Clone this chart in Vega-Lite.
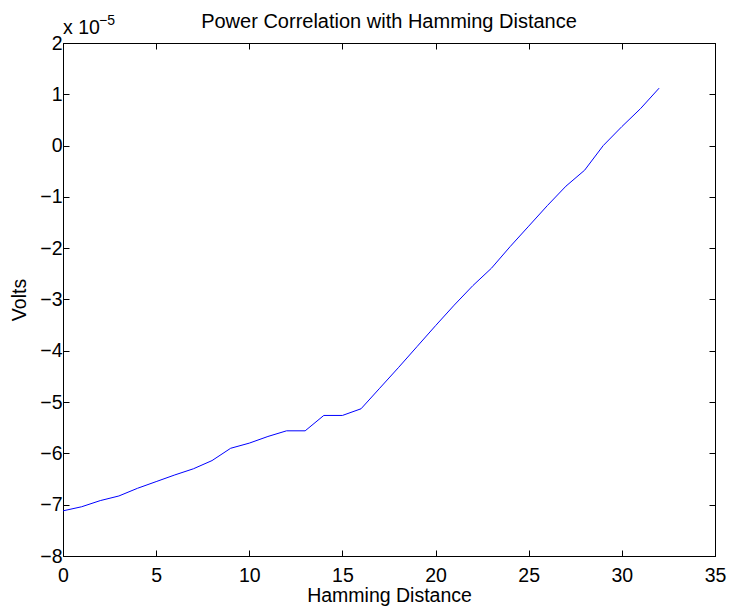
{
  "$schema": "https://vega.github.io/schema/vega-lite/v6.json",
  "width": 652,
  "height": 513,
  "autosize": {"type": "none"},
  "padding": {"left": 63, "top": 43, "right": 15, "bottom": 55},
  "background": "white",
  "config": {
    "view": {"stroke": "black", "strokeWidth": 1},
    "font": "Liberation Sans",
    "axis": {
      "grid": false,
      "labelFlush": false,
      "labelOverlap": false,
      "domainColor": "black",
      "domainWidth": 1,
      "tickColor": "black",
      "tickWidth": 1,
      "tickSize": -6,
      "labelColor": "black",
      "labelFontSize": 19.5,
      "labelFont": "Liberation Sans",
      "titleColor": "black",
      "titleFontSize": 19.5,
      "titleFont": "Liberation Sans",
      "titleFontWeight": "normal"
    }
  },
  "title": {
    "text": "Power Correlation with Hamming Distance",
    "fontSize": 20,
    "fontWeight": "normal",
    "font": "Liberation Sans",
    "color": "black",
    "baseline": "alphabetic",
    "offset": -34
  },
  "data": {
    "values": [
      {"distance": 0, "volts": -7.12e-5},
      {"distance": 1, "volts": -7.04e-5},
      {"distance": 2, "volts": -6.92e-5},
      {"distance": 3, "volts": -6.83e-5},
      {"distance": 4, "volts": -6.68e-5},
      {"distance": 5, "volts": -6.55e-5},
      {"distance": 6, "volts": -6.42e-5},
      {"distance": 7, "volts": -6.30e-5},
      {"distance": 8, "volts": -6.14e-5},
      {"distance": 9, "volts": -5.90e-5},
      {"distance": 10, "volts": -5.80e-5},
      {"distance": 11, "volts": -5.67e-5},
      {"distance": 12, "volts": -5.56e-5},
      {"distance": 13, "volts": -5.56e-5},
      {"distance": 14, "volts": -5.26e-5},
      {"distance": 15, "volts": -5.26e-5},
      {"distance": 16, "volts": -5.13e-5},
      {"distance": 17, "volts": -4.73e-5},
      {"distance": 18, "volts": -4.33e-5},
      {"distance": 19, "volts": -3.92e-5},
      {"distance": 20, "volts": -3.51e-5},
      {"distance": 21, "volts": -3.11e-5},
      {"distance": 22, "volts": -2.73e-5},
      {"distance": 23, "volts": -2.39e-5},
      {"distance": 24, "volts": -1.97e-5},
      {"distance": 25, "volts": -1.57e-5},
      {"distance": 26, "volts": -1.17e-5},
      {"distance": 27, "volts": -0.79e-5},
      {"distance": 28, "volts": -0.48e-5},
      {"distance": 29, "volts": 0.0},
      {"distance": 30, "volts": 0.37e-5},
      {"distance": 31, "volts": 0.72e-5},
      {"distance": 32, "volts": 1.12e-5}
    ]
  },
  "layer": [
    {
      "mark": {"type": "line", "color": "#0000ff", "strokeWidth": 1},
      "encoding": {
        "x": {
          "field": "distance",
          "type": "quantitative",
          "scale": {"domain": [0, 35], "nice": false, "zero": false},
          "axis": {
            "orient": "bottom",
            "values": [0, 5, 10, 15, 20, 25, 30, 35],
            "labelPadding": 16,
            "title": "Hamming Distance",
            "titlePadding": 2
          }
        },
        "y": {
          "field": "volts",
          "type": "quantitative",
          "scale": {"domain": [-8e-5, 2e-5], "nice": false, "zero": false},
          "axis": {
            "orient": "left",
            "values": [-8e-5, -7e-5, -6e-5, -5e-5, -4e-5, -3e-5, -2e-5, -1e-5, 0, 1e-5, 2e-5],
            "labelExpr": "format(round(datum.value*1e5), 'd')",
            "labelPadding": 7,
            "title": "Volts",
            "titlePadding": 10
          }
        }
      }
    },
    {
      "mark": {"type": "line", "opacity": 0},
      "encoding": {
        "x": {
          "field": "distance",
          "type": "quantitative",
          "axis": {"orient": "top", "values": [0, 5, 10, 15, 20, 25, 30, 35], "labels": false, "title": null}
        },
        "y": {
          "field": "volts",
          "type": "quantitative",
          "axis": {"orient": "right", "values": [-8e-5, -7e-5, -6e-5, -5e-5, -4e-5, -3e-5, -2e-5, -1e-5, 0, 1e-5, 2e-5], "labels": false, "title": null}
        }
      }
    },
    {
      "data": {"values": [{"x": 0, "y": 2e-5, "label": "x 10"}]},
      "mark": {"type": "text", "align": "left", "baseline": "alphabetic", "dy": -9, "fontSize": 19.5, "font": "Liberation Sans", "color": "black"},
      "encoding": {
        "x": {"field": "x", "type": "quantitative", "axis": null},
        "y": {"field": "y", "type": "quantitative", "axis": null},
        "text": {"field": "label"}
      }
    },
    {
      "data": {"values": [{"x": 0, "y": 2e-5, "label": "−5"}]},
      "mark": {"type": "text", "align": "left", "baseline": "alphabetic", "dx": 36, "dy": -18, "fontSize": 14, "font": "Liberation Sans", "color": "black"},
      "encoding": {
        "x": {"field": "x", "type": "quantitative", "axis": null},
        "y": {"field": "y", "type": "quantitative", "axis": null},
        "text": {"field": "label"}
      }
    }
  ],
  "resolve": {"axis": {"x": "independent", "y": "independent"}}
}
